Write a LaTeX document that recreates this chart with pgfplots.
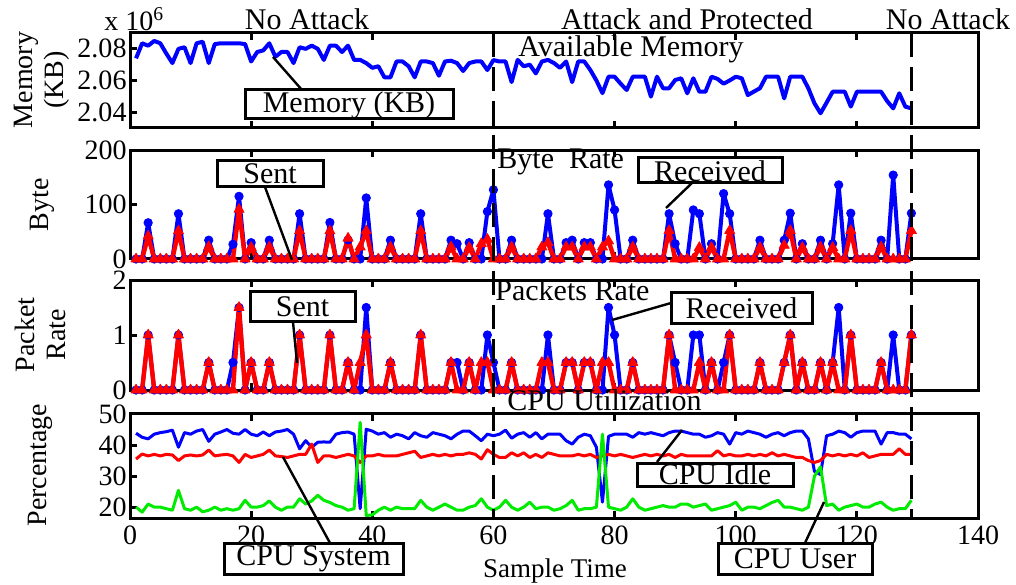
\documentclass[border=0pt]{standalone}
\usepackage{pgfplots}
\pgfplotsset{compat=1.18}
\usepackage{pgfplotstable}
\usepackage{fontspec}
\setmainfont{Liberation Serif}

\definecolor{mblue}{RGB}{0,0,255}
\definecolor{mred}{RGB}{255,0,0}
\definecolor{mgreen}{RGB}{0,235,0}

\pgfplotstableread{
x mem brx btx prx ptx idle sys usr
1 2.074 0 0 0 0 43.8 35.5 20.0
2 2.0835 0 0 0 0 42.5 37.1 18.4
3 2.082 66.5 42 1 1 42.0 36.5 21.0
4 2.085 0 0 0 0 43.5 37.0 20.0
5 2.0835 0 0 0 0 44.0 36.5 20.0
6 2.077 0 0 0 0 44.3 37.0 19.5
7 2.071 0 0 0 0 44.8 36.8 19.0
8 2.080 83 51.5 1 1 39.3 35.0 25.4
9 2.081 0 0 0 0 44.0 36.5 19.5
10 2.071 0 0 0 0 43.5 36.8 19.0
11 2.0835 0 0 0 0 44.5 36.5 20.0
12 2.0845 0 0 0 0 45.0 36.8 18.5
13 2.071 34.5 22.4 0.5 0.5 41.2 38.4 19.0
14 2.083 0 0 0 0 43.5 36.5 20.0
15 2.0835 0 0 0 0 44.2 36.8 19.0
16 2.0835 0 0 0 0 45.0 37.0 19.5
17 2.0835 27 0 0.5 0 43.8 36.5 19.0
18 2.0835 115 91 1.5 1.5 43.5 34.4 19.5
19 2.083 0 0 0 0 45.0 37.0 22.2
20 2.072 30 21 0.5 0.5 43.5 36.0 20.0
21 2.078 0 0 0 0 43.0 36.5 20.0
22 2.079 0 0 0 0 44.2 37.0 20.5
23 2.0835 34.5 22 0.5 0.5 43.0 38.4 22.0
24 2.075 0 0 0 0 44.2 36.5 20.0
25 2.078 0 0 0 0 44.5 36.3 19.0
26 2.078 0 0 0 0 45.0 36.0 20.0
27 2.071 0 0 0 0 43.5 36.5 20.0
28 2.081 83 51.5 1 1 38.8 37.0 22.7
29 2.080 0 0 0 0 41.4 37.0 21.0
30 2.082 0 0 0 0 39.3 40.3 22.0
31 2.080 0 0 0 0 40.9 34.4 23.8
32 2.073 0 0 0 0 41.0 36.5 22.2
33 2.082 67 51.5 1 1 40.9 36.5 21.5
34 2.082 0 0 0 0 43.5 36.0 20.5
35 2.078 0 0 0 0 44.0 36.5 20.0
36 2.082 35 38 0.5 0.5 44.2 37.0 19.0
37 2.073 0 0 0 0 43.5 36.5 19.5
38 2.073 0 22 0 0.5 19.5 34.4 47.3
39 2.071 112 51.5 1.5 1 45.1 36.5 17.3
40 2.068 0 0 0 0 44.5 36.5 17.5
41 2.069 0 0 0 0 43.5 37.0 19.0
42 2.062 0 0 0 0 44.0 36.5 20.0
43 2.062 34.5 22 0.5 0.5 42.5 36.5 19.0
44 2.072 0 0 0 0 43.5 36.5 20.0
45 2.072 0 0 0 0 43.0 37.0 19.5
46 2.069 0 0 0 0 42.0 37.5 19.5
47 2.062 0 0 0 0 44.0 38.0 19.5
48 2.072 83 51.5 1 1 43.0 36.0 22.2
49 2.072 0 0 0 0 42.5 36.5 20.0
50 2.071 0 0 0 0 44.0 37.0 19.0
51 2.063 0 0 0 0 43.5 36.5 20.0
52 2.072 0 0 0 0 43.0 37.0 21.0
53 2.0725 34.5 22 0.5 0.5 42.0 36.5 20.0
54 2.071 28 0 0.5 0 43.5 37.0 19.0
55 2.066 0 0 0 0 44.5 37.0 19.0
56 2.071 30 21 0.5 0.5 44.5 37.5 20.0
57 2.072 0 0 0 0 43.0 37.0 20.5
58 2.072 0 28 0 0.5 41.4 35.5 22.7
59 2.0666 87 36 1 0.5 43.5 38.5 20.0
60 2.0729 127 0 0.5 0 43.0 37.0 19.0
61 2.072 0 0 0 0 43.5 36.0 20.0
62 2.072 0 0 0 0 44.8 36.0 22.2
63 2.059 34.5 22 0.5 0.5 42.2 37.5 20.0
64 2.073 0 0 0 0 43.5 36.5 19.0
65 2.069 0 0 0 0 44.0 37.5 20.0
66 2.070 0 0 0 0 42.5 36.0 21.6
67 2.0645 0 0 0 0 44.0 37.0 19.5
68 2.072 0 22 0 0.5 42.0 36.0 20.0
69 2.073 83 30 1 0.5 43.5 37.5 20.0
70 2.071 0 0 0 0 43.5 37.0 19.0
71 2.068 0 0 0 0 43.5 36.5 19.5
72 2.072 30 22 0.5 0.5 41.4 36.5 20.5
73 2.059 34.5 22 0.5 0.5 40.3 36.5 22.2
74 2.072 0 0 0 0 42.5 37.0 19.0
75 2.072 30 22 0.5 0.5 43.5 36.5 19.5
76 2.0666 30 22 0.5 0.5 43.0 37.0 19.5
77 2.060 0 0 0 0 39.3 36.0 20.0
78 2.052 0 22 0 0.5 21.6 36.5 43.5
79 2.0624 136 33 1.5 0.5 42.8 37.0 20.0
80 2.0624 90 0 1 0 43.5 36.5 19.5
81 2.058 0 0 0 0 43.5 37.0 19.0
82 2.054 0 0 0 0 43.5 36.5 20.0
83 2.0624 34.5 22 0.5 0.5 42.5 36.0 22.7
84 2.0624 0 0 0 0 44.0 36.5 20.0
85 2.0624 0 0 0 0 43.5 37.0 19.0
86 2.0498 0 0 0 0 44.0 36.5 19.5
87 2.0624 0 0 0 0 43.5 37.0 20.0
88 2.0551 0 0 0 0 43.0 36.5 20.5
89 2.0551 83 52 1 1 44.0 37.0 20.0
90 2.0603 28 0 0.5 0 44.5 36.0 20.0
91 2.0614 0 0 0 0 44.5 37.0 21.0
92 2.0519 0 0 0 0 44.0 36.5 21.0
93 2.0614 90 0 1 0 43.5 36.5 20.0
94 2.0529 83 21 1 0.5 43.5 36.5 20.5
95 2.0529 0 0 0 0 42.5 36.5 21.0
96 2.0624 28 21 0.5 0.5 43.0 36.5 19.0
97 2.061 0 0 0 0 44.0 38.2 19.5
98 2.058 120 0 0.5 0 43.5 36.5 20.0
99 2.060 83 52 1 1 40.3 37.0 20.5
100 2.0624 0 0 0 0 44.0 36.5 21.6
101 2.0614 0 0 0 0 43.5 36.5 19.0
102 2.0508 0 0 0 0 44.5 37.0 20.0
103 2.053 0 0 0 0 44.0 36.5 20.0
104 2.0551 34.5 21 0.5 0.5 43.5 37.0 19.5
105 2.0624 0 0 0 0 42.5 36.5 20.5
106 2.0624 0 0 0 0 43.5 37.5 21.5
107 2.0624 0 0 0 0 44.0 36.5 22.2
108 2.0487 34.5 25 0.5 0.5 43.0 37.0 20.0
109 2.0624 84 52 1 1 44.0 36.5 20.0
110 2.0624 0 0 0 0 44.5 36.0 19.5
111 2.0624 28 21 0.5 0.5 44.5 36.0 19.0
112 2.055 0 0 0 0 42.0 35.0 20.0
113 2.0456 0 0 0 0 31.5 34.4 30.0
114 2.0393 34.5 22 0.5 0.5 30.5 35.0 33.0
115 2.046 0 0 0 0 43.0 37.0 20.5
116 2.0529 28 21 0.5 0.5 43.5 36.5 21.0
117 2.0529 136 0 1.5 0 44.5 37.0 19.0
118 2.0529 0 0 0 0 44.0 36.5 20.0
119 2.0435 84 52 1 1 42.5 37.0 20.5
120 2.0529 0 0 0 0 44.0 36.5 21.0
121 2.0529 0 0 0 0 44.5 37.5 20.0
122 2.0529 0 0 0 0 44.5 36.0 20.0
123 2.0529 0 0 0 0 44.5 36.5 21.0
124 2.0529 34.5 22 0.5 0.5 40.3 37.0 21.6
125 2.047 0 0 0 0 44.0 37.0 20.0
126 2.0424 154 0 1 0 44.0 37.0 19.0
127 2.0519 0 0 0 0 43.5 38.8 19.5
128 2.0435 0 0 0 0 43.5 37.0 19.5
129 2.0424 84 52 1 1 42.0 37.0 22.2
}\data

\newcommand\annf{\fontsize{15}{17}\selectfont}
\newcommand\tickf{\fontsize{14}{16}\selectfont}

\pgfplotsset{
  panel/.style={
    scale only axis, width=424pt, xmin=0, xmax=140, anchor=south west,
    xtick={0,20,...,140}, tick align=inside, xtick pos=both, ytick pos=left,
    major tick length=3.5pt, line width=1.5pt,
    every tick/.style={black, line width=1.5pt},
    tick label style={font=\tickf},
    /pgf/number format/assume math mode=true,
    yticklabel style={inner sep=1pt},
    clip=false,
  },
  bl/.style={color=mblue, line width=2pt, line join=round, mark=*, mark size=2.1pt,
    mark options={solid, line width=0.4pt}},
  rd/.style={color=mred, line width=2.2pt, line join=round, mark=triangle*, mark size=2.9pt,
    mark options={solid, line width=0.4pt, line join=round}},
}

\begin{document}
\begin{tikzpicture}
\path[use as bounding box] (0,0) rectangle (508pt,292pt);

% Panel 1: memory
\begin{axis}[panel, at={(65pt,228pt)}, height=47.5pt,
  ymin=2.03, ymax=2.09, ytick={2.04,2.06,2.08}, xticklabels={},
  yticklabel style={/pgf/number format/.cd, fixed, precision=2, fixed zerofill}]
\addplot[color=mblue, line width=2pt, line join=round] table[x=x, y=mem] {\data};
\end{axis}

% Panel 2: byte rate
\begin{axis}[panel, at={(65pt,162.5pt)}, height=54.5pt,
  ymin=0, ymax=200, ytick={0,100,200}, xticklabels={}]
\addplot[bl] table[x=x, y=brx] {\data};
\addplot[rd] table[x=x, y=btx] {\data};
\end{axis}

% Panel 3: packet rate
\begin{axis}[panel, at={(65pt,97pt)}, height=55pt,
  ymin=0, ymax=2, ytick={0,1,2}, xticklabels={}]
\addplot[bl] table[x=x, y=prx] {\data};
\addplot[rd] table[x=x, y=ptx] {\data};
\end{axis}

% Panel 4: CPU
\begin{axis}[panel, at={(65pt,33pt)}, height=52pt,
  ymin=16.5, ymax=50, ytick={20,30,40,50}]
\addplot[color=mblue, line width=1.5pt, line join=round] table[x=x, y=idle] {\data};
\addplot[color=mred, line width=1.5pt, line join=round] table[x=x, y=sys] {\data};
\addplot[color=mgreen, line width=1.5pt, line join=round] table[x=x, y=usr] {\data};
\end{axis}

\begin{scope}[x=0.5pt, y=-0.5pt, shift={(0pt,292pt)}]
  % dashed separators
  \draw[line width=1.5pt, dash pattern=on 12pt off 5pt] (493.7,33) -- (493.7,520);
  \draw[line width=1.5pt, dash pattern=on 12pt off 5pt] (911.5,33) -- (911.5,520);
  % top texts
  \node[anchor=base, inner sep=0, font=\annf] at (307,30) {No Attack};
  \node[anchor=base, inner sep=0, font=\annf] at (687,30) {Attack and Protected};
  \node[anchor=base, inner sep=0, font=\annf] at (948,30) {No Attack};
  \node[anchor=base west, inner sep=0, font=\tickf] at (104,31) {x 10\textsuperscript{6}};
  % panel titles
  \node[anchor=base west, inner sep=0, font=\annf] at (518,57) {Available Memory};
  \node[anchor=base west, inner sep=0, font=\annf] at (497,169) {Byte\ \ Rate};
  \node[anchor=base west, inner sep=0, font=\annf] at (495,301) {Packets Rate};
  \node[anchor=base west, inner sep=0, font=\annf] at (507,410) {CPU Utilization};
  % y labels
  \node[rotate=90, align=center, font=\fontsize{14}{15.5}\selectfont] at (42,80) {Memory\\(KB)};
  \node[rotate=90, font=\tickf] at (42,205) {Byte};
  \node[rotate=90, align=center, font=\fontsize{14}{15.5}\selectfont] at (40,335) {Packet\\Rate};
  \node[rotate=90, font=\tickf] at (40,465) {Percentage};
  \node[anchor=base, inner sep=0, font=\fontsize{13.5}{15}\selectfont] at (555,577) {Sample Time};
  % annotation boxes
  \draw[line width=1.2pt] (273,57) -- (302,90);
  \draw[line width=1.5pt, fill=white] (245,90) rectangle (453,119);
  \node[font=\annf, inner sep=0] at (349,105) {Memory (KB)};

  \draw[line width=1.2pt] (265,187) -- (292,260);
  \draw[line width=1.5pt, fill=white] (217,161) rectangle (323,187);
  \node[font=\annf, inner sep=0] at (270,174) {Sent};

  \draw[line width=1.2pt] (692,183) -- (666,208);
  \draw[line width=1.5pt, fill=white] (638,158) rectangle (782,183);
  \node[font=\annf, inner sep=0] at (710,171) {Received};

  \draw[line width=1.2pt] (293,322) -- (297,363);
  \draw[line width=1.5pt, fill=white] (250,292) rectangle (355,322);
  \node[font=\annf, inner sep=0] at (302.5,307) {Sent};

  \draw[line width=1.2pt] (671,303) -- (612,320);
  \draw[line width=1.5pt, fill=white] (671,293) rectangle (812,324);
  \node[font=\annf, inner sep=0] at (741.5,308.5) {Received};

  \draw[line width=1.2pt] (657,462) -- (682,430);
  \draw[line width=1.5pt, fill=white] (637,463) rectangle (793,486);
  \node[font=\annf, inner sep=0] at (715,474) {CPU Idle};

  \draw[line width=1.2pt] (330,543) -- (283,457);
  \draw[line width=1.5pt, fill=white] (224,543) rectangle (403,574);
  \node[font=\annf, inner sep=0] at (313.5,558.5) {CPU System};

  \draw[line width=1.2pt] (805,543) -- (824,502);
  \draw[line width=1.5pt, fill=white] (718,543) rectangle (872,574);
  \node[font=\annf, inner sep=0] at (795,558.5) {CPU User};
\end{scope}
\end{tikzpicture}
\end{document}
